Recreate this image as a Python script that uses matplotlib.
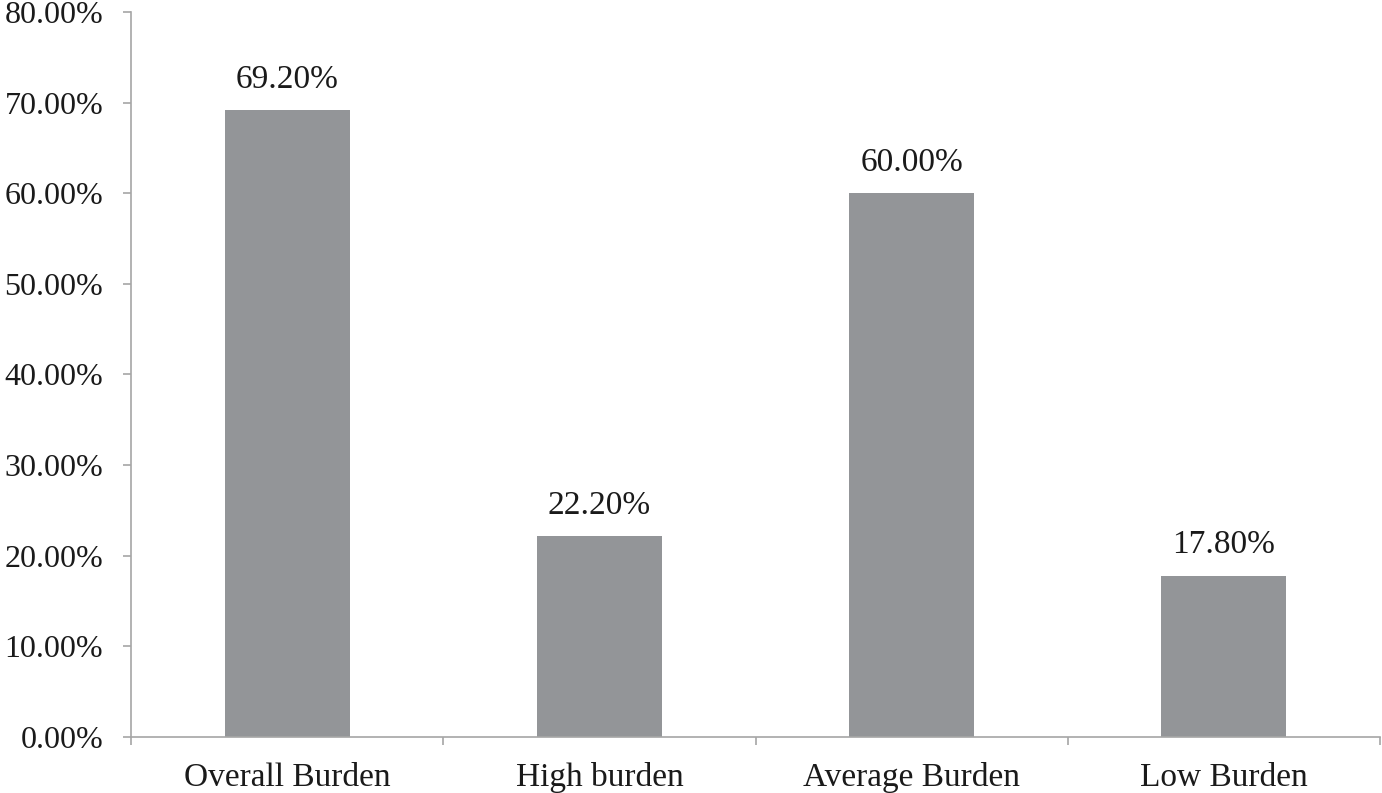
import matplotlib
matplotlib.use("Agg")
import matplotlib.pyplot as plt
from matplotlib.ticker import FuncFormatter

categories = ["Overall Burden", "High burden", "Average Burden", "Low Burden"]
values = [69.20, 22.20, 60.00, 17.80]

plt.rcParams["font.family"] = ["Liberation Serif", "DejaVu Serif"]
axis_grey = "#a6a6a6"
bar_grey = "#939598"

fig = plt.figure(figsize=(13.82, 7.93), dpi=100)
ax = fig.add_axes([0.0948, 0.0706, 0.9038, 0.9143])

x = list(range(len(categories)))
ax.bar(x, values, width=0.4, color=bar_grey, zorder=2)
for xi, v in zip(x, values):
    ax.annotate(f"{v:.2f}%", (xi, v), xytext=(0, 11), textcoords="offset points",
                ha="center", va="bottom", fontsize=24, color="#1a1a1a")

ax.set_xlim(-0.5, len(categories) - 0.5)
ax.set_ylim(0, 80)
ax.set_yticks(range(0, 81, 10))
ax.yaxis.set_major_formatter(FuncFormatter(lambda v, p: f"{v:.2f}%"))
ax.set_xticks(x)
ax.set_xticklabels(categories)
ax.set_xticks([i - 0.5 for i in range(len(categories) + 1)], minor=True)

for s in ["top", "right"]:
    ax.spines[s].set_visible(False)
for s in ["left", "bottom"]:
    ax.spines[s].set_color(axis_grey)
    ax.spines[s].set_linewidth(1.2)

ax.tick_params(axis="y", length=6, width=1.2, color=axis_grey, labelsize=23, pad=14, labelcolor="#1a1a1a")
ax.tick_params(axis="x", which="major", length=0, labelsize=24, pad=18, labelcolor="#1a1a1a")
ax.tick_params(axis="x", which="minor", length=6, width=1.2, color=axis_grey)

fig.savefig("out.png", dpi=100)
